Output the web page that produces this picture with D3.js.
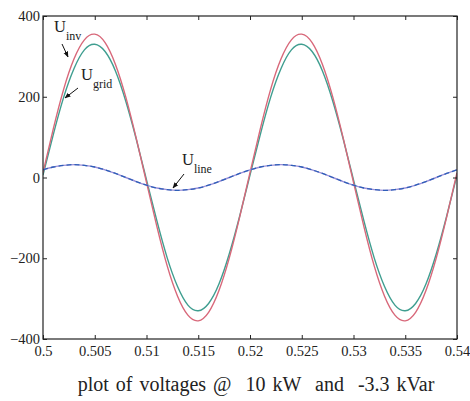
<!DOCTYPE html>
<html>
<head>
<meta charset="utf-8">
<script src="https://cdn.jsdelivr.net/npm/d3@7"></script>
<style>
  body { margin: 0; background: #fff; }
  svg text { font-family: "Liberation Serif", "DejaVu Serif", serif; fill: #222; }
</style>
</head>
<body>
<svg id="chart" width="470" height="401"></svg>
<script>
// time samples (s), read every 1 ms
const time = [0.500, 0.501, 0.502, 0.503, 0.504, 0.505, 0.506, 0.507, 0.508, 0.509,
  0.510, 0.511, 0.512, 0.513, 0.514, 0.515, 0.516, 0.517, 0.518, 0.519,
  0.520, 0.521, 0.522, 0.523, 0.524, 0.525, 0.526, 0.527, 0.528, 0.529,
  0.530, 0.531, 0.532, 0.533, 0.534, 0.535, 0.536, 0.537, 0.538, 0.539, 0.540];

// inverter voltage (V)
const uInv = [12, 121, 219, 294, 341, 355, 334, 280, 199, 98,
  -12, -121, -219, -294, -341, -355, -334, -280, -199, -98,
  12, 121, 219, 294, 341, 355, 334, 280, 199, 98,
  -12, -121, -219, -294, -341, -355, -334, -280, -199, -98, 12];

// grid voltage (V)
const uGrid = [6, 107, 199, 270, 316, 330, 312, 264, 189, 96,
  -6, -107, -199, -270, -316, -330, -312, -264, -189, -96,
  6, 107, 199, 270, 316, 330, 312, 264, 189, 96,
  -6, -107, -199, -270, -316, -330, -312, -264, -189, -96, 6];

// line voltage drop (V)
const uLine = [19, 26, 30, 32, 30, 26, 19, 10, 0, -10,
  -19, -26, -30, -32, -30, -26, -19, -10, 0, 10,
  19, 26, 30, 32, 30, 26, 19, 10, 0, -10,
  -19, -26, -30, -32, -30, -26, -19, -10, 0, 10, 19];

const xTicks = [0.5, 0.505, 0.51, 0.515, 0.52, 0.525, 0.53, 0.535, 0.54];
const xTickLabels = ['0.5', '0.505', '0.51', '0.515', '0.52', '0.525', '0.53', '0.535', '0.54'];
const yTicks = [-400, -200, 0, 200, 400];
const yTickLabels = ['\u2212400', '\u2212200', '0', '200', '400'];

const caption = 'plot of voltages @  10 kW  and  -3.3 kVar';

const svg = d3.select('#chart');
// plot box edges
const box = {left: 43, right: 457, top: 16, bottom: 339};

const x = d3.scaleLinear().domain([0.5, 0.54]).range([box.left, box.right]);
const y = d3.scaleLinear().domain([-400, 400]).range([box.bottom, box.top]);

// clip curves to the axes box
svg.append('clipPath').attr('id', 'clip')
  .append('rect')
  .attr('x', box.left).attr('y', box.top)
  .attr('width', box.right - box.left).attr('height', box.bottom - box.top);

const line = (vals) => d3.line()
  .x((d, i) => x(time[i]))
  .y((d) => y(d))
  .curve(d3.curveNatural)(vals);

const plot = svg.append('g').attr('clip-path', 'url(#clip)');

plot.append('path').attr('d', line(uGrid))
  .attr('fill', 'none').attr('stroke', '#3f9e90').attr('stroke-width', 1.4);
plot.append('path').attr('d', line(uInv))
  .attr('fill', 'none').attr('stroke', '#d8687a').attr('stroke-width', 1.4);
plot.append('path').attr('d', line(uLine))
  .attr('fill', 'none').attr('stroke', '#9a8fd8').attr('stroke-width', 1.4);
plot.append('path').attr('d', line(uLine))
  .attr('fill', 'none').attr('stroke', '#2f5fb8').attr('stroke-width', 1.3)
  .attr('stroke-dasharray', '5,3');

// axes: ticks point inward on all four sides
const tickLen = 4;
const axisBottom = d3.axisBottom(x).tickValues(xTicks)
  .tickSize(-tickLen).tickPadding(7)
  .tickFormat((d, i) => xTickLabels[i]);
const axisTop = d3.axisTop(x).tickValues(xTicks)
  .tickSize(-tickLen).tickFormat('');
const axisLeft = d3.axisLeft(y).tickValues(yTicks)
  .tickSize(-tickLen).tickPadding(3)
  .tickFormat((d, i) => yTickLabels[i]);
const axisRight = d3.axisRight(y).tickValues(yTicks)
  .tickSize(-tickLen).tickFormat('');

function styleAxis(g) {
  g.select('.domain').remove();
  g.selectAll('.tick line').attr('stroke', '#222');
  g.selectAll('.tick text')
    .attr('font-size', 14.5)
    .attr('font-family', '"Liberation Serif", serif')
    .attr('fill', '#333');
}

svg.append('g').attr('transform', `translate(0,${box.bottom})`).call(axisBottom).call(styleAxis);
svg.append('g').attr('transform', `translate(0,${box.top})`).call(axisTop).call(styleAxis);
svg.append('g').attr('transform', `translate(${box.left},0)`).call(axisLeft).call(styleAxis);
svg.append('g').attr('transform', `translate(${box.right},0)`).call(axisRight).call(styleAxis);

// the box
svg.append('rect')
  .attr('x', box.left).attr('y', box.top)
  .attr('width', box.right - box.left).attr('height', box.bottom - box.top)
  .attr('fill', 'none').attr('stroke', '#222').attr('stroke-width', 1.2);

// annotation arrows
svg.append('defs').append('marker')
  .attr('id', 'head')
  .attr('viewBox', '0 0 10 10')
  .attr('refX', 9).attr('refY', 5)
  .attr('markerWidth', 6).attr('markerHeight', 6)
  .attr('orient', 'auto')
  .append('path').attr('d', 'M0,1L10,5L0,9Z').attr('fill', '#111');

const labels = [
  {main: 'U', sub: 'inv', tx: 54, ty: 32, from: [62, 44], to: [68, 57]},
  {main: 'U', sub: 'grid', tx: 81, ty: 80, from: [78, 88], to: [65, 98]},
  {main: 'U', sub: 'line', tx: 182, ty: 165, from: [184, 174], to: [173, 188]},
];

labels.forEach((l) => {
  const t = svg.append('text').attr('x', l.tx).attr('y', l.ty).attr('font-size', 16.5);
  t.append('tspan').text(l.main);
  t.append('tspan').attr('dy', 8).attr('font-size', 12).text(l.sub);
  svg.append('line')
    .attr('x1', l.from[0]).attr('y1', l.from[1])
    .attr('x2', l.to[0]).attr('y2', l.to[1])
    .attr('stroke', '#111').attr('stroke-width', 1)
    .attr('marker-end', 'url(#head)');
});

// caption
svg.append('text')
  .attr('x', 256).attr('y', 391)
  .attr('text-anchor', 'middle')
  .attr('font-size', 20)
  .attr('word-spacing', 2)
  .style('white-space', 'pre')
  .text(caption);
</script>
</body>
</html>
